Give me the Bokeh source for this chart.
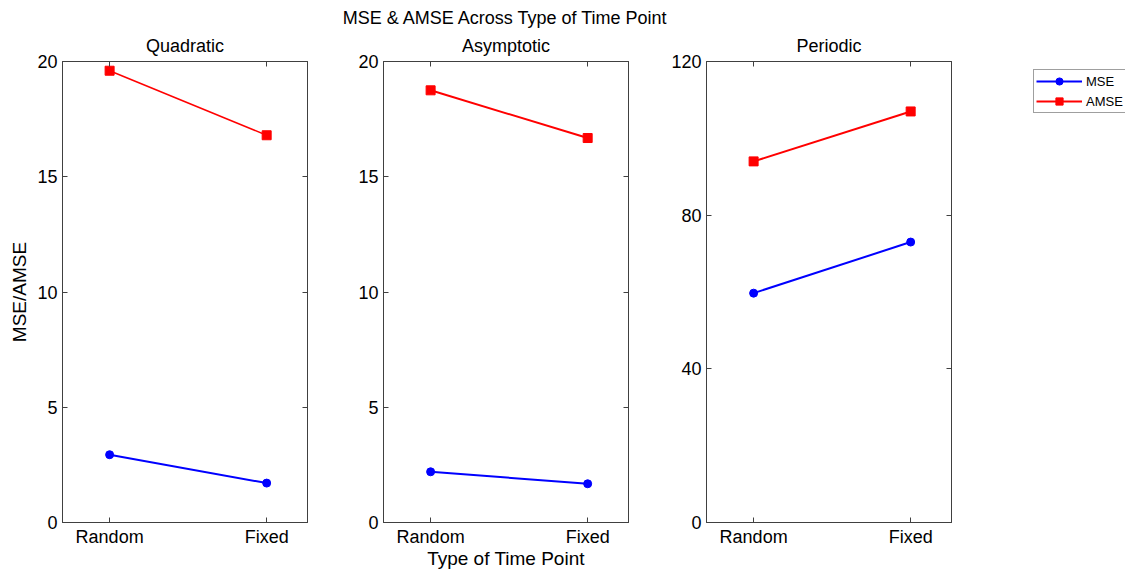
from bokeh.plotting import figure
from bokeh.models import Range1d, LinearAxis, FixedTicker, Title, Legend, LegendItem
from bokeh.layouts import row, column
from bokeh.embed import file_html
from bokeh.resources import INLINE

# Values per trajectory type, in the order of the time point categories
time_points = ["Random", "Fixed"]
panel_names = ["Quadratic", "Asymptotic", "Periodic"]
series_names = ["MSE", "AMSE"]

mse_quadratic = [2.94, 1.71]
amse_quadratic = [19.6, 16.8]
mse_asymptotic = [2.2, 1.68]
amse_asymptotic = [18.75, 16.68]
mse_periodic = [59.7, 73.0]
amse_periodic = [94.0, 107.0]

y_ticks_small = [0, 5, 10, 15, 20]
y_ticks_periodic = [0, 40, 80, 120]

FONT = "Liberation Sans"
AXIS_COLOR = "#404040"
BLUE = "#0000ff"
RED = "#ff0000"
TOTAL_W = 1125
TOTAL_H = 571
MAIN_H = 28          # strip with the overall title
PANEL_H = TOTAL_H - MAIN_H
TOP = 61 - MAIN_H
BOTTOM = 49
FRAME_W = 245

# left / right borders of the three panels (frames at 62, 383, 706)
BORDERS = [(62, 10), (66, 10), (68, 10)]

x_pos = list(range(1, len(time_points) + 1))
x_labels = {i: t for i, t in zip(x_pos, time_points)}


def blank_figure(width, height, **borders):
    f = figure(width=width, height=height, output_backend="svg",
               toolbar_location=None, x_axis_location=None,
               y_axis_location=None, x_range=Range1d(0, 1),
               y_range=Range1d(0, 1), **borders)
    f.xgrid.visible = False
    f.ygrid.visible = False
    f.outline_line_color = None
    f.background_fill_color = "white"
    f.border_fill_color = "white"
    return f


def title(text, standoff=0):
    return Title(text=text, align="center", text_font=FONT,
                 text_font_size="18px", text_font_style="normal",
                 text_color="black", standoff=standoff)


def style_axis(ax, show_labels):
    ax.axis_line_color = AXIS_COLOR
    ax.major_tick_line_color = AXIS_COLOR
    ax.major_tick_in = 5
    ax.major_tick_out = 0
    ax.minor_tick_line_color = None
    if show_labels:
        ax.major_label_text_font = FONT
        ax.major_label_text_font_size = "18px"
        ax.major_label_text_color = "black"
        ax.major_label_standoff = 5
    else:
        ax.major_label_text_font_size = "0px"
        ax.major_label_standoff = 0


def style_axis_label(ax, text, standoff):
    ax.axis_label = text
    ax.axis_label_text_font = FONT
    ax.axis_label_text_font_size = "19px"
    ax.axis_label_text_font_style = "normal"
    ax.axis_label_text_color = "black"
    ax.axis_label_standoff = standoff


def make_panel(name, mse, amse, y_end, ticks, left, right,
               ylabel=None, xlabel=None, amse_width=2):
    p = figure(width=left + FRAME_W + right, height=PANEL_H,
               x_range=Range1d(0.7, 2.26), y_range=Range1d(0, y_end),
               output_backend="svg", toolbar_location=None,
               min_border_left=left, min_border_right=right,
               min_border_top=TOP, min_border_bottom=BOTTOM)
    p.xgrid.visible = False
    p.ygrid.visible = False
    p.outline_line_color = AXIS_COLOR
    p.background_fill_color = "white"
    p.border_fill_color = "white"

    xa = p.xaxis[0]
    xa.ticker = FixedTicker(ticks=x_pos)
    xa.major_label_overrides = x_labels
    style_axis(xa, True)
    xa.major_label_standoff = 4
    if xlabel:
        style_axis_label(xa, xlabel, -2)

    ya = p.yaxis[0]
    ya.ticker = FixedTicker(ticks=ticks)
    style_axis(ya, True)
    if ylabel:
        style_axis_label(ya, ylabel, 4)

    top_axis = LinearAxis(ticker=FixedTicker(ticks=x_pos))
    style_axis(top_axis, False)
    p.add_layout(top_axis, "above")
    right_axis = LinearAxis(ticker=FixedTicker(ticks=ticks))
    style_axis(right_axis, False)
    p.add_layout(right_axis, "right")

    p.add_layout(title(name, standoff=11), "above")

    p.line(x_pos, mse, line_color=BLUE, line_width=2)
    p.scatter(x_pos, mse, marker="circle", size=8,
              fill_color=BLUE, line_color=BLUE)
    p.line(x_pos, amse, line_color=RED, line_width=amse_width)
    p.scatter(x_pos, amse, marker="square", size=9,
              fill_color=RED, line_color=RED)
    return p


p1 = make_panel(panel_names[0], mse_quadratic, amse_quadratic, 20,
                y_ticks_small, *BORDERS[0], ylabel="MSE/AMSE", amse_width=1.5)
p2 = make_panel(panel_names[1], mse_asymptotic, amse_asymptotic, 20,
                y_ticks_small, *BORDERS[1], xlabel="Type of Time Point")
p3 = make_panel(panel_names[2], mse_periodic, amse_periodic, 120,
                y_ticks_periodic, *BORDERS[2])
panels = [p1, p2, p3]
used_w = sum(p.width for p in panels)

# Overall title, centred over the middle frame
x0 = BORDERS[0][0] + FRAME_W + BORDERS[0][1] + BORDERS[1][0]
header = blank_figure(TOTAL_W, MAIN_H, min_border_left=x0,
                      min_border_right=TOTAL_W - x0 - FRAME_W,
                      min_border_top=MAIN_H - 1, min_border_bottom=0)
header.add_layout(title("MSE & AMSE Across Type of Time Point"), "above")

# Legend column to the right of the panels; its swatches reuse the
# periodic series, which fall outside this column's own unit ranges
LEG_MARGIN = 8
key = blank_figure(TOTAL_W - used_w, PANEL_H,
                   min_border_left=1033 - used_w - LEG_MARGIN,
                   min_border_right=0, min_border_top=TOP,
                   min_border_bottom=BOTTOM)
k_mse_l = key.line(x_pos, mse_periodic, line_color=BLUE, line_width=2)
k_mse_s = key.scatter(x_pos, mse_periodic, marker="circle", size=8,
                      fill_color=BLUE, line_color=BLUE)
k_amse_l = key.line(x_pos, amse_periodic, line_color=RED, line_width=2)
k_amse_s = key.scatter(x_pos, amse_periodic, marker="square", size=9,
                       fill_color=RED, line_color=RED)

legend = Legend(items=[LegendItem(label=series_names[0], renderers=[k_mse_l, k_mse_s]),
                       LegendItem(label=series_names[1], renderers=[k_amse_l, k_amse_s])],
                location="top_left")
legend.label_text_font = FONT
legend.label_text_font_size = "13px"
legend.label_text_color = "black"
legend.border_line_color = AXIS_COLOR
legend.border_line_width = 1
legend.background_fill_color = "white"
legend.background_fill_alpha = 1
legend.padding = 2
legend.spacing = 2
legend.margin = LEG_MARGIN
legend.glyph_width = 46
legend.glyph_height = 18
legend.label_height = 18
legend.label_standoff = 4
key.add_layout(legend, "center")

layout = column(header,
                row(p1, p2, p3, key, spacing=0),
                spacing=0)

with open("out.html", "w") as f:
    f.write(file_html(layout, INLINE))
